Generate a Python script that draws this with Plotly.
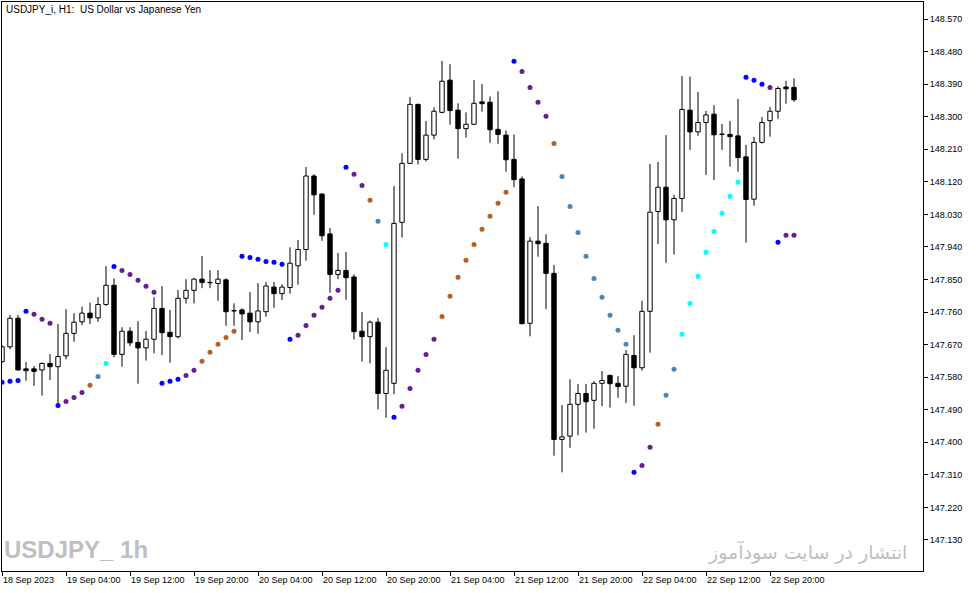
import plotly.graph_objects as go

bar_idx = list(range(100))

open_ = [147.623, 147.664, 147.743, 147.603, 147.603, 147.600, 147.618, 147.609, 147.639, 147.701,
         147.733, 147.757, 147.744, 147.781, 147.834, 147.643, 147.707, 147.676, 147.661, 147.685,
         147.770, 147.704, 147.692, 147.798, 147.820, 147.851, 147.842, 147.839, 147.849, 147.764,
         147.766, 147.757, 147.733, 147.761, 147.829, 147.811, 147.828, 147.888, 147.933, 148.136,
         148.086, 147.976, 147.864, 147.875, 147.857, 147.707, 147.692, 147.732, 147.535, 147.563,
         148.008, 148.171, 148.334, 148.182, 148.249, 148.312, 148.401, 148.318, 148.267, 148.279,
         148.341, 148.340, 148.265, 148.249, 148.182, 148.128, 147.729, 147.956, 147.950, 147.867,
         147.408, 147.417, 147.505, 147.535, 147.516, 147.563, 147.585, 147.563, 147.555, 147.640,
         147.606, 147.762, 148.038, 148.105, 148.015, 148.074, 148.318, 148.258, 148.284, 148.307,
         148.252, 148.251, 148.247, 148.189, 148.072, 148.229, 148.289, 148.315, 148.382, 148.381]

high = [147.669, 147.752, 147.752, 147.622, 147.611, 147.621, 147.644, 147.727, 147.768, 147.757,
        147.775, 147.786, 147.801, 147.887, 147.853, 147.718, 147.718, 147.735, 147.708, 147.801,
        147.832, 147.766, 147.821, 147.851, 147.854, 147.915, 147.876, 147.876, 147.853, 147.784,
        147.770, 147.815, 147.840, 147.843, 147.843, 147.837, 147.939, 147.959, 148.161, 148.141,
        148.089, 147.992, 147.923, 147.926, 147.864, 147.760, 147.737, 147.744, 147.663, 148.108,
        148.199, 148.354, 148.336, 148.288, 148.326, 148.454, 148.445, 148.337, 148.312, 148.401,
        148.390, 148.356, 148.370, 148.262, 148.251, 148.135, 147.967, 148.053, 147.975, 147.890,
        147.503, 147.574, 147.561, 147.561, 147.569, 147.597, 147.587, 147.583, 147.655, 147.696,
        147.791, 148.169, 148.175, 148.249, 148.084, 148.412, 148.411, 148.368, 148.316, 148.332,
        148.280, 148.288, 148.349, 148.222, 148.244, 148.299, 148.327, 148.384, 148.399, 148.406]

low = [147.619, 147.657, 147.598, 147.570, 147.556, 147.529, 147.572, 147.506, 147.629, 147.678,
       147.724, 147.727, 147.733, 147.777, 147.635, 147.609, 147.666, 147.562, 147.626, 147.646,
       147.641, 147.620, 147.687, 147.784, 147.784, 147.826, 147.826, 147.791, 147.722, 147.722,
       147.683, 147.705, 147.700, 147.747, 147.772, 147.793, 147.811, 147.836, 147.902, 148.029,
       147.957, 147.813, 147.851, 147.794, 147.684, 147.623, 147.618, 147.491, 147.468, 147.533,
       147.966, 148.169, 148.168, 148.176, 148.237, 148.309, 148.278, 148.184, 148.242, 148.277,
       148.314, 148.228, 148.225, 148.148, 148.105, 147.726, 147.693, 147.913, 147.768, 147.363,
       147.317, 147.385, 147.419, 147.427, 147.438, 147.500, 147.496, 147.523, 147.509, 147.501,
       147.598, 147.648, 147.948, 147.896, 147.919, 148.037, 148.208, 148.247, 148.139, 148.125,
       148.208, 148.162, 148.148, 147.952, 148.054, 148.226, 148.245, 148.294, 148.336, 148.341]

close = [147.664, 147.743, 147.600, 147.598, 147.596, 147.618, 147.609, 147.637, 147.701, 147.732,
         147.757, 147.744, 147.781, 147.834, 147.643, 147.707, 147.675, 147.661, 147.685, 147.770,
         147.703, 147.692, 147.798, 147.820, 147.851, 147.842, 147.841, 147.851, 147.761, 147.763,
         147.755, 147.733, 147.763, 147.832, 147.811, 147.829, 147.895, 147.933, 148.136, 148.084,
         147.971, 147.864, 147.875, 147.855, 147.706, 147.692, 147.732, 147.535, 147.599, 148.005,
         148.171, 148.334, 148.182, 148.249, 148.315, 148.398, 148.317, 148.267, 148.279, 148.337,
         148.336, 148.264, 148.251, 148.181, 148.126, 147.728, 147.956, 147.949, 147.867, 147.408,
         147.415, 147.505, 147.535, 147.512, 147.563, 147.571, 147.562, 147.554, 147.643, 147.606,
         147.762, 148.036, 148.105, 148.015, 148.074, 148.320, 148.258, 148.284, 148.305, 148.250,
         148.251, 148.245, 148.187, 148.071, 148.229, 148.284, 148.315, 148.378, 148.377, 148.347]

sar = [147.566, 147.569, 147.571, 147.762, 147.754, 147.740, 147.729, 147.502, 147.513, 147.524,
       147.538, 147.558, 147.582, 147.618, 147.886, 147.875, 147.864, 147.848, 147.831, 147.815,
       147.563, 147.569, 147.574, 147.585, 147.599, 147.624, 147.649, 147.671, 147.690, 147.707,
       147.914, 147.911, 147.906, 147.900, 147.898, 147.892, 147.685, 147.696, 147.723, 147.751,
       147.773, 147.798, 147.820, 148.160, 148.141, 148.110, 148.069, 148.011, 147.947, 147.469,
       147.500, 147.549, 147.599, 147.643, 147.685, 147.748, 147.804, 147.856, 147.903, 147.947,
       147.989, 148.025, 148.061, 148.091, 148.453, 148.425, 148.381, 148.340, 148.301, 148.226,
       148.135, 148.052, 147.980, 147.914, 147.853, 147.801, 147.751, 147.710, 147.671, 147.317,
       147.336, 147.386, 147.450, 147.530, 147.602, 147.699, 147.784, 147.859, 147.925, 147.983,
       148.033, 148.080, 148.119, 148.409, 148.401, 148.390, 148.381, 147.953, 147.972, 147.972]

# b=blue, p=purple, o=brown, s=steel blue, c=aqua
sar_kind = ("bbbb" + "ppp" + "b" + "ppp" + "o" + "s" + "c" + "b" + "ppppp" + "bbb" + "pp" + "ooooo"
            + "bbbbbbb" + "pppppp" + "b" + "pp" + "o" + "s" + "c" + "b" + "ppppp" + "ooooooooo"
            + "b" + "pppp" + "o" + "sssssssss" + "b" + "pp" + "o" + "ss" + "cccccccc" + "bbb"
            + "p" + "b" + "pp")

price_ticks = [147.13, 147.22, 147.31, 147.40, 147.49, 147.58, 147.67, 147.76, 147.85, 147.94,
               148.03, 148.12, 148.21, 148.30, 148.39, 148.48, 148.57]
time_tick_idx = [0, 8, 16, 24, 32, 40, 48, 56, 64, 72, 80, 88, 96]
time_tick_text = ['18 Sep 2023', '19 Sep 04:00', '19 Sep 12:00', '19 Sep 20:00', '20 Sep 04:00',
                  '20 Sep 12:00', '20 Sep 20:00', '21 Sep 04:00', '21 Sep 12:00', '21 Sep 20:00',
                  '22 Sep 04:00', '22 Sep 12:00', '22 Sep 20:00']

dot_colors = {'b': '#0000ff', 'p': '#66208a', 'o': '#b4622c', 's': '#4a86b8', 'c': '#00ffff'}

# wicks: only the parts outside the body
wx, wy = [], []
for i, o, h, l, c in zip(bar_idx, open_, high, low, close):
    top, bot = max(o, c), min(o, c)
    wx += [i, i, None, i, i, None]
    wy += [h, top, None, bot, l, None]

base = [min(o, c) for o, c in zip(open_, close)]
height = [max(abs(c - o), 0.0006) for o, c in zip(open_, close)]
body_col = ['white' if c >= o else 'black' for o, c in zip(open_, close)]

fig = go.Figure()
fig.add_trace(go.Scatter(x=wx, y=wy, mode='lines', line=dict(color='black', width=1),
                         hoverinfo='skip'))
fig.add_trace(go.Bar(x=bar_idx, y=height, base=base, width=0.55,
                     marker=dict(color=body_col, line=dict(color='black', width=1))))
fig.add_trace(go.Scatter(x=bar_idx, y=sar, mode='markers',
                         marker=dict(size=5, color=[dot_colors[k] for k in sar_kind],
                                     line=dict(width=0))))

tick_font = dict(family='Liberation Sans, Arial, sans-serif', size=9, color='black')

fig.update_layout(
    width=976, height=593,
    margin=dict(l=2, r=53, t=2, b=22),
    paper_bgcolor='white', plot_bgcolor='white',
    showlegend=False,
    xaxis=dict(range=[0, 115.125], showgrid=False, zeroline=False, automargin=False,
               showline=True, mirror=True, linecolor='black', linewidth=1,
               ticks='outside', ticklen=4, tickcolor='black',
               tickvals=time_tick_idx, ticktext=time_tick_text,
               ticklabelposition='outside right', tickfont=tick_font),
    yaxis=dict(range=[147.0443, 148.6170], side='right', showgrid=False, zeroline=False,
               automargin=False,
               showline=True, mirror=True, linecolor='black', linewidth=1,
               ticks='outside', ticklen=4, tickcolor='black',
               tickvals=price_ticks, ticktext=['%.3f' % v for v in price_ticks],
               tickfont=tick_font),
    annotations=[
        dict(xref='paper', yref='paper', x=0.002, y=0.987, xanchor='left', yanchor='middle',
             text='USDJPY_i, H1:  US Dollar vs Japanese Yen', showarrow=False,
             font=dict(family='Liberation Sans, Arial, sans-serif', size=10, color='black')),
        dict(xref='paper', yref='paper', x=0.0, y=0.038, xanchor='left', yanchor='middle',
             text='<b>USDJPY_ 1h</b>', showarrow=False,
             font=dict(family='Liberation Sans Narrow, Liberation Sans', size=24, color='#bfbfbf')),
        dict(xref='paper', yref='paper', x=0.9845, y=0.034, xanchor='right', yanchor='middle',
             text='انتشار در سایت سودآموز', showarrow=False,
             font=dict(family='DejaVu Sans, Noto Sans', size=19, color='#bfbfbf')),
    ],
)

# the page adds its own 8px body margin; drop it so the figure sits at 0,0
fig.write_html("out.html", config={'displayModeBar': False},
               post_script="document.body.style.margin='0';")
